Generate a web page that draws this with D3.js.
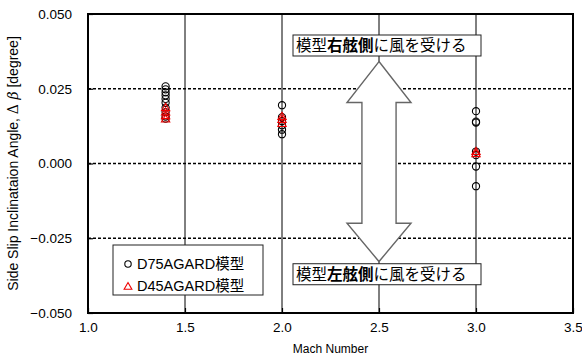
<!DOCTYPE html>
<html>
<head>
<meta charset="utf-8">
<script src="https://cdn.jsdelivr.net/npm/d3@7/dist/d3.min.js"></script>
<style>
  html, body { margin: 0; padding: 0; background: #fff; }
  svg { display: block; font-family: Arial, "Liberation Sans", sans-serif; }
</style>
</head>
<body>
<svg id="chart" width="582" height="360"></svg>
<script>
// Mach numbers tested and measured side-slip inclination per model [degree]
const machNumbers = [1.4, 2.0, 3.0];
const d75Beta = [
  [0.0258, 0.0248, 0.0238, 0.0228, 0.0216, 0.0203, 0.0187, 0.0172, 0.0157, 0.0150],
  [0.0195, 0.0155, 0.0142, 0.0128, 0.0113, 0.0098],
  [0.0175, 0.0140, 0.0137, 0.0040, 0.0028, -0.0010, -0.0076]
];
const d45Beta = [
  [0.0185, 0.0170, 0.0158, 0.0147],
  [0.0155, 0.0145, 0.0132],
  [0.0038, 0.0031]
];
const xTicks = [1.0, 1.5, 2.0, 2.5, 3.0, 3.5];
const yTicks = [0.050, 0.025, 0.000, -0.025, -0.050];
const legendLabels = ["D75AGARD模型", "D45AGARD模型"];

const svg = d3.select("#chart");
const plot = { left: 88, right: 573, top: 14, bottom: 313 };

const x = d3.scaleLinear().domain([1.0, 3.5]).range([plot.left, plot.right]);
const y = d3.scaleLinear().domain([-0.050, 0.050]).range([plot.bottom, plot.top]);

// vertical solid grid lines
svg.append("g").selectAll("line")
  .data(xTicks.slice(1, -1))
  .join("line")
  .attr("x1", d => x(d)).attr("x2", d => x(d))
  .attr("y1", plot.top).attr("y2", plot.bottom)
  .attr("stroke", "#000").attr("stroke-width", 1);

// horizontal dotted grid lines
svg.append("g").selectAll("line")
  .data(yTicks.slice(1, -1))
  .join("line")
  .attr("x1", plot.left).attr("x2", plot.right)
  .attr("y1", d => y(d)).attr("y2", d => y(d))
  .attr("stroke", "#000").attr("stroke-width", 1.6)
  .attr("stroke-dasharray", "3,2");

// double-headed block arrow centred on Mach 2.5
const arrow = { cx: 2.5, shaftHalf: 0.088, headHalf: 0.165, tipTop: 0.0341, baseTop: 0.0204, baseBot: -0.0200, tipBot: -0.0328 };
const arrowPts = [
  [arrow.cx, arrow.tipTop],
  [arrow.cx + arrow.headHalf, arrow.baseTop],
  [arrow.cx + arrow.shaftHalf, arrow.baseTop],
  [arrow.cx + arrow.shaftHalf, arrow.baseBot],
  [arrow.cx + arrow.headHalf, arrow.baseBot],
  [arrow.cx, arrow.tipBot],
  [arrow.cx - arrow.headHalf, arrow.baseBot],
  [arrow.cx - arrow.shaftHalf, arrow.baseBot],
  [arrow.cx - arrow.shaftHalf, arrow.baseTop],
  [arrow.cx - arrow.headHalf, arrow.baseTop]
];
svg.append("path")
  .attr("d", d3.line().x(d => x(d[0])).y(d => y(d[1]))(arrowPts) + "Z")
  .attr("fill", "#fff").attr("stroke", "#666").attr("stroke-width", 1.4);

// plot frame and axes
const xAxis = d3.axisBottom(x).tickValues(xTicks).tickFormat(d3.format(".1f")).tickSizeInner(-5).tickSizeOuter(0).tickPadding(9);
const yAxis = d3.axisLeft(y).tickValues(yTicks).tickFormat(d => d3.format(".3f")(d)).tickSizeInner(-5).tickSizeOuter(0).tickPadding(16);

const gx = svg.append("g").attr("transform", `translate(0,${plot.bottom})`).call(xAxis);
const gy = svg.append("g").attr("transform", `translate(${plot.left},0)`).call(yAxis);
[gx, gy].forEach(g => {
  g.select(".domain").remove();
  g.selectAll(".tick line").attr("stroke", "#000").attr("stroke-width", 1.2);
  g.selectAll(".tick text").attr("fill", "#000").attr("font-size", 13.5)
    .attr("font-family", "Arial, 'Liberation Sans', sans-serif");
});

svg.append("rect")
  .attr("x", plot.left).attr("y", plot.top)
  .attr("width", plot.right - plot.left).attr("height", plot.bottom - plot.top)
  .attr("fill", "none").attr("stroke", "#000").attr("stroke-width", 2);

// data points
const pts75 = machNumbers.flatMap((m, i) => d75Beta[i].map(v => ({ m, v })));
const pts45 = machNumbers.flatMap((m, i) => d45Beta[i].map(v => ({ m, v })));

svg.append("g").selectAll("circle")
  .data(pts75).join("circle")
  .attr("cx", d => x(d.m)).attr("cy", d => y(d.v)).attr("r", 3.6)
  .attr("fill", "none").attr("stroke", "#000").attr("stroke-width", 1.1);

const tri = d3.symbol().type(d3.symbolTriangle).size(30);
svg.append("g").selectAll("path")
  .data(pts45).join("path")
  .attr("d", tri)
  .attr("transform", d => `translate(${x(d.m)},${y(d.v)})`)
  .attr("fill", "none").attr("stroke", "#e00").attr("stroke-width", 1.1);

// annotation boxes
const notes = [
  { v: 0.0393, parts: [["模型", 400], ["右舷側", 700], ["に風を受ける", 400]] },
  { v: -0.0372, parts: [["模型", 400], ["左舷側", 700], ["に風を受ける", 400]] }
];
const noteFont = "'Noto Sans CJK JP', 'Noto Sans CJK SC', sans-serif";
notes.forEach(n => {
  const g = svg.append("g");
  g.append("rect")
    .attr("x", 293).attr("y", y(n.v) - 11)
    .attr("width", 188).attr("height", 21)
    .attr("fill", "#fff").attr("stroke", "#222").attr("stroke-width", 1);
  const t = g.append("text")
    .attr("x", 296).attr("y", y(n.v) + 5.5)
    .attr("font-family", noteFont).attr("font-size", 15.5).attr("fill", "#000");
  n.parts.forEach(p => t.append("tspan").attr("font-weight", p[1]).text(p[0]));
});

// legend
const lg = svg.append("g");
lg.append("rect").attr("x", 113).attr("y", 245).attr("width", 150).attr("height", 50)
  .attr("fill", "#fff").attr("stroke", "#222").attr("stroke-width", 1);
lg.append("circle").attr("cx", 128).attr("cy", 264).attr("r", 3.2)
  .attr("fill", "none").attr("stroke", "#000").attr("stroke-width", 1.1);
lg.append("path").attr("d", d3.symbol().type(d3.symbolTriangle).size(26)).attr("transform", "translate(128,287)")
  .attr("fill", "none").attr("stroke", "#e00").attr("stroke-width", 1.1);
lg.selectAll("text").data(legendLabels).join("text")
  .attr("x", 137).attr("y", (d, i) => 269 + i * 22)
  .attr("font-family", "Arial, 'Liberation Sans', 'Noto Sans CJK JP', sans-serif")
  .attr("font-size", 14.5).attr("fill", "#000")
  .text(d => d);

// axis titles
svg.append("text")
  .attr("x", x(2.25)).attr("y", 353).attr("text-anchor", "middle")
  .attr("font-size", 12).attr("fill", "#000").text("Mach Number");

const yt = svg.append("text")
  .attr("transform", `translate(18,${(plot.top + plot.bottom) / 2}) rotate(-90)`)
  .attr("text-anchor", "middle").attr("font-size", 14).attr("fill", "#000");
yt.append("tspan").text("Side Slip Inclinataion Angle, ");
yt.append("tspan").attr("font-family", "'DejaVu Serif', serif").text("Δ ");
yt.append("tspan").attr("font-family", "'DejaVu Serif', serif").attr("font-style", "italic").text("β");
yt.append("tspan").text(" [degree]");
</script>
</body>
</html>
